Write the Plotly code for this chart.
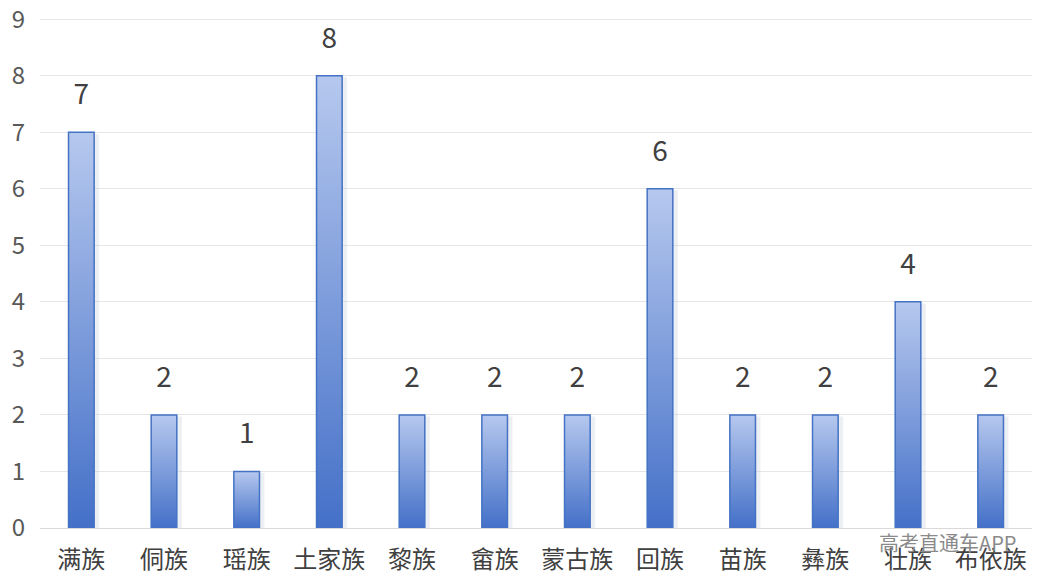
import plotly.graph_objects as go

categories = ["满族", "侗族", "瑶族", "土家族", "黎族", "畲族", "蒙古族", "回族", "苗族", "彝族", "壮族", "布依族"]
values = [7, 2, 1, 8, 2, 2, 2, 6, 2, 2, 4, 2]
y_ticks = [0, 1, 2, 3, 4, 5, 6, 7, 8, 9]

half_w = 0.155
label_offset = 0.62

fig = go.Figure()

for i, v in enumerate(values):
    # soft shadow
    fig.add_trace(go.Scatter(
        x=[i - half_w + 0.05, i + half_w + 0.06, i + half_w + 0.06, i - half_w + 0.05, i - half_w + 0.05],
        y=[0, 0, v - 0.03, v - 0.03, 0],
        mode="lines", fill="toself", line=dict(width=0),
        fillcolor="rgba(170,180,200,0.22)", hoverinfo="skip", showlegend=False,
    ))
    fig.add_trace(go.Scatter(
        x=[i - half_w, i + half_w, i + half_w, i - half_w, i - half_w],
        y=[0, 0, v, v, 0],
        mode="lines", fill="toself",
        line=dict(color="#4472c4", width=1.5),
        fillgradient=dict(type="vertical",
                          colorscale=[[0, "#4470c8"], [1, "#b6c8ee"]]),
        hoverinfo="skip", showlegend=False,
    ))

fig.add_trace(go.Scatter(
    x=list(range(len(categories))),
    y=[v + label_offset for v in values],
    mode="text",
    text=[str(v) for v in values],
    textfont=dict(size=28, color="#404040", family="Noto Sans CJK SC"),
    hoverinfo="skip", showlegend=False,
))

fig.add_annotation(
    text="高考直通车APP", x=0.986, y=-0.029, xref="paper", yref="paper",
    xanchor="right", yanchor="middle", showarrow=False,
    font=dict(size=20, color="#8a8a8a", family="Noto Sans CJK SC"),
)

fig.update_layout(
    width=1046, height=583,
    margin=dict(l=40, r=14, t=18, b=55),
    paper_bgcolor="white", plot_bgcolor="white",
    font=dict(family="Noto Sans CJK SC", color="#595959"),
    xaxis=dict(
        range=[-0.5, len(categories) - 0.5],
        tickmode="array", tickvals=list(range(len(categories))), ticktext=categories,
        tickfont=dict(size=24, color="#404040"),
        showgrid=False, zeroline=False, showline=True, linecolor="#d9d9d9", linewidth=1,
        ticks="", ticklabelstandoff=10, fixedrange=True, automargin=False,
    ),
    yaxis=dict(
        range=[0, 9.02], tickmode="array", tickvals=y_ticks,
        tickfont=dict(size=24, color="#595959"),
        showgrid=True, gridcolor="#e6e6e6", gridwidth=1,
        zeroline=False, showline=False, ticks="", ticklabelstandoff=14,
        ticklabeloverflow="allow", automargin=False, fixedrange=True,
    ),
)

fig.write_html("out.html", config={"displayModeBar": False},
               post_script="document.body.style.margin='0';")
